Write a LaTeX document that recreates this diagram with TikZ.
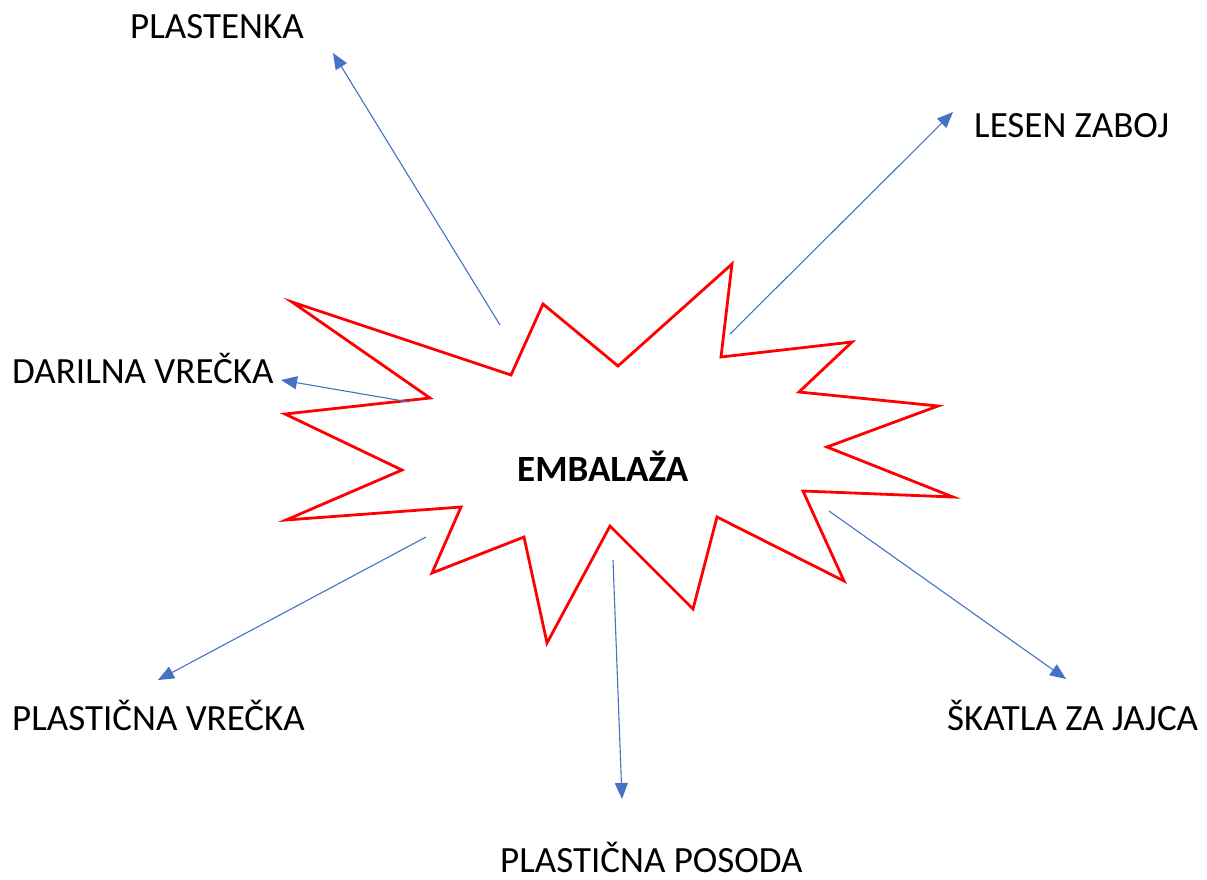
\documentclass[tikz,border=0pt]{standalone}
\usepackage{fontspec}
\setmainfont{Carlito}
\usetikzlibrary{arrows.meta}
\definecolor{arrowblue}{RGB}{68,114,196}
\tikzset{
  lbl/.style={anchor=base west, inner sep=0pt, font=\fontsize{37}{44}\selectfont},
  conn/.style={draw=arrowblue, line width=1.1pt, -{Triangle[length=16pt,width=13pt]}},
  burst/.style={draw=red, line width=2.8pt, line join=miter, fill=white}
}
\begin{document}
\begin{tikzpicture}[x=1pt,y=-1pt]
\useasboundingbox (0,0) rectangle (1207,879);
\fill[white] (0,0) rectangle (1207,879);
% burst
\draw[burst] (292,302) -- (511,375) -- (543,304) -- (618,366) -- (732,264) -- (721,357)
  -- (852,342) -- (799,392) -- (938,406) -- (827,447) -- (953,497) -- (803,491)
  -- (844,581) -- (717,517) -- (693,609) -- (610,526) -- (547,643) -- (524,537)
  -- (432,573) -- (461,507) -- (286,520) -- (402,470) -- (285,414) -- (430,398) -- cycle;
% labels
\node[lbl] (plastenka) at (130,38) {PLASTENKA};
\node[lbl] (lesen) at (974,137) {LESEN ZABOJ};
\node[lbl] (darilna) at (12,383) {DARILNA VREČKA};
\node[lbl] (pvrecka) at (12,730) {PLASTIČNA VREČKA};
\node[lbl] (skatla) at (947,730) {ŠKATLA ZA JAJCA};
\node[lbl] (posoda) at (500,872) {PLASTIČNA POSODA};
\node[lbl, font=\fontsize{37}{44}\selectfont\bfseries] (emb) at (517,481) {EMBALAŽA};
% connector ends
\coordinate (s1) at (500,325); \coordinate (e1) at (333,53);
\coordinate (s2) at (730,334); \coordinate (e2) at (953,112);
\coordinate (s3) at (409,402); \coordinate (e3) at (281,380);
\coordinate (s4) at (426,537); \coordinate (e4) at (158,680);
\coordinate (s5) at (613,560); \coordinate (e5) at (622,799);
\coordinate (s6) at (829,511); \coordinate (e6) at (1066,679);
\draw[conn] (s1) -- (e1);
\draw[conn] (s2) -- (e2);
\draw[conn] (s3) -- (e3);
\draw[conn] (s4) -- (e4);
\draw[conn] (s5) -- (e5);
\draw[conn] (s6) -- (e6);
\end{tikzpicture}
\end{document}
